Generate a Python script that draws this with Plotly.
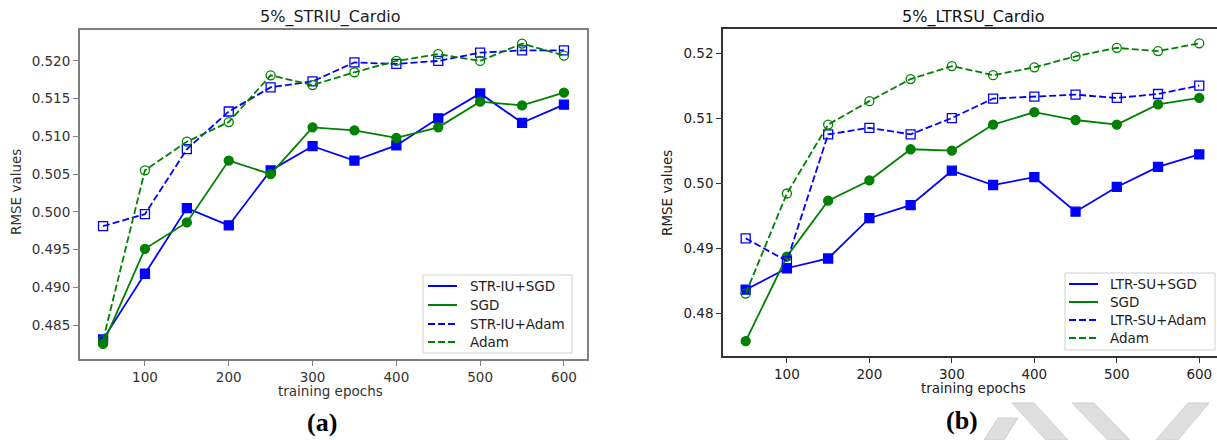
import plotly.graph_objects as go

W, H = 1217, 440

# ---------------- data ----------------
epochs = [50, 100, 150, 200, 250, 300, 350, 400, 450, 500, 550, 600]

# (a) 5%_STRIU_Cardio
a_stri_sgd = [0.4831, 0.4918, 0.5005, 0.4982, 0.5055, 0.5087, 0.5068, 0.5088, 0.5124, 0.5157, 0.5118, 0.5142]
a_sgd = [0.4825, 0.4951, 0.4986, 0.5068, 0.5050, 0.5112, 0.5108, 0.5098, 0.5112, 0.5146, 0.5141, 0.5158]
a_stri_adam = [0.4981, 0.4997, 0.5083, 0.5133, 0.5165, 0.5173, 0.5198, 0.5196, 0.5200, 0.5211, 0.5214, 0.5214]
a_adam = [0.4830, 0.5055, 0.5093, 0.5119, 0.5181, 0.5168, 0.5185, 0.5200, 0.5209, 0.5200, 0.5223, 0.5207]

# (b) 5%_LTRSU_Cardio
b_ltr_sgd = [0.4836, 0.4869, 0.4884, 0.4946, 0.4966, 0.5019, 0.4997, 0.5009, 0.4956, 0.4994, 0.5025, 0.5044]
b_sgd = [0.4757, 0.4887, 0.4973, 0.5004, 0.5052, 0.5050, 0.5090, 0.5109, 0.5097, 0.5090, 0.5121, 0.5131]
b_ltr_adam = [0.4915, 0.4880, 0.5075, 0.5085, 0.5075, 0.5100, 0.5130, 0.5133, 0.5136, 0.5131, 0.5137, 0.5150]
b_adam = [0.4830, 0.4984, 0.5090, 0.5126, 0.5160, 0.5180, 0.5166, 0.5178, 0.5195, 0.5208, 0.5203, 0.5215]

a_names = ["STR-IU+SGD", "SGD", "STR-IU+Adam", "Adam"]
b_names = ["LTR-SU+SGD", "SGD", "LTR-SU+Adam", "Adam"]

x_ticks = [100, 200, 300, 400, 500, 600]
a_y_ticks = [0.485, 0.490, 0.495, 0.500, 0.505, 0.510, 0.515, 0.520]
b_y_ticks = [0.48, 0.49, 0.50, 0.51, 0.52]

titles = ["5%_STRIU_Cardio", "5%_LTRSU_Cardio"]
x_label = "training epochs"
y_label = "RMSE values"
panel_labels = ["(a)", "(b)"]

# ---------------- helpers ----------------
def px(x):
    return x / W

def py(y):
    return 1 - y / H

BLUE = "#0000ff"
GREEN = "#008000"
FONT = "DejaVu Sans"
DASH = "7px,3px"

styles = [
    (BLUE, "solid", "square"),
    (GREEN, "solid", "circle"),
    (BLUE, DASH, "square-open"),
    (GREEN, DASH, "circle-open"),
]

fig = go.Figure()

def add_panel(series, names, xa, ya):
    for vals, name, (color, dash, symbol) in zip(series, names, styles):
        fig.add_trace(go.Scatter(
            x=epochs, y=vals, mode="lines+markers",
            line=dict(color=color, width=1.8, dash=dash),
            marker=dict(symbol=symbol, size=9, color=color,
                        line=dict(color=color, width=1.3)),
            xaxis=xa, yaxis=ya, showlegend=False, name=name,
        ))

add_panel([a_stri_sgd, a_sgd, a_stri_adam, a_adam], a_names, "x", "y")
add_panel([b_ltr_sgd, b_sgd, b_ltr_adam, b_adam], b_names, "x2", "y2")

common_axis = dict(showgrid=False, zeroline=False, showline=True, ticks="outside",
                   ticklen=5, tickwidth=1.2)

fig.update_layout(
    width=W, height=H,
    margin=dict(l=0, r=0, t=0, b=0),
    paper_bgcolor="white", plot_bgcolor="white",
    showlegend=False,
    font=dict(family=FONT, size=13.5, color="#222"),
    xaxis=dict(domain=[px(80), px(587)], range=[22.5, 627.5], anchor="y",
               tickvals=x_ticks, linecolor="#808080", linewidth=2, mirror=True,
               tickcolor="#808080", tickfont=dict(size=13.5, color="#333"), **common_axis),
    yaxis=dict(domain=[py(359), py(30)], range=[0.4805, 0.5241], anchor="x",
               tickvals=a_y_ticks, tickformat=".3f", linecolor="#808080", linewidth=2,
               mirror=True, tickcolor="#808080", tickfont=dict(size=13.5, color="#333"),
               **common_axis),
    xaxis2=dict(domain=[px(723), 1.0], range=[22.5, 621.5], anchor="y2",
                tickvals=x_ticks, linecolor="#333", linewidth=1.5, mirror=True,
                tickcolor="#333", tickfont=dict(size=13.5, color="#222"), **common_axis),
    yaxis2=dict(domain=[py(356), py(29)], range=[0.4734, 0.5237], anchor="x2",
                tickvals=b_y_ticks, tickformat=".2f", linecolor="#333", linewidth=1.5,
                mirror=False, tickcolor="#333", tickfont=dict(size=13.5, color="#222"),
                **common_axis),
)

ann = []
shapes = []

# titles
ann.append(dict(text=titles[0], x=px(330), y=py(17), font=dict(size=16, color="#222")))
ann.append(dict(text=titles[1], x=px(973), y=py(17), font=dict(size=16, color="#111")))
# x labels
ann.append(dict(text=x_label, x=px(330), y=py(391), font=dict(size=13.5, color="#333")))
ann.append(dict(text=x_label, x=px(973), y=py(388), font=dict(size=13.5, color="#222")))
# y labels
ann.append(dict(text=y_label, x=px(16), y=py(192), textangle=-90, font=dict(size=13.5, color="#333")))
ann.append(dict(text=y_label, x=px(667), y=py(193), textangle=-90, font=dict(size=13.5, color="#222")))
# panel labels
ann.append(dict(text="<b>" + panel_labels[0] + "</b>", x=px(322), y=py(422),
                font=dict(size=26, family="Liberation Serif", color="#000")))
ann.append(dict(text="<b>" + panel_labels[1] + "</b>", x=px(962), y=py(420),
                font=dict(size=26, family="Liberation Serif", color="#000")))

# legends (drawn as boxes, line samples and text)
def legend(names, box, rows, line_x, text_x):
    x0, y0, x1, y1 = box
    shapes.append(dict(type="rect", xref="paper", yref="paper",
                       x0=px(x0), x1=px(x1), y0=py(y1), y1=py(y0),
                       fillcolor="rgba(255,255,255,0.9)", line=dict(color="#d0d0d0", width=1)))
    for name, yy, (color, dash, _) in zip(names, rows, styles):
        shapes.append(dict(type="line", xref="paper", yref="paper",
                           x0=px(line_x[0]), x1=px(line_x[1]), y0=py(yy), y1=py(yy),
                           line=dict(color=color, width=2, dash=dash)))
        ann.append(dict(text=name, x=px(text_x), y=py(yy), xanchor="left",
                        font=dict(size=13.5, color="#222")))

legend(a_names, (423, 275, 572, 353), [286, 305, 324, 342], (428, 457), 468)
legend(b_names, (1065, 273, 1215, 350), [284, 302, 320, 338], (1069, 1098), 1108)

for a in ann:
    a.setdefault("xanchor", "center")
    a.update(xref="paper", yref="paper", showarrow=False, yanchor="middle")
fig.update_layout(annotations=ann)

# watermark bands (decoration)
bands = [
    [(984, 440), (1004, 440), (1018, 418), (998, 418)],
    [(1012, 403), (1034, 403), (1068, 440), (1046, 440)],
    [(1072, 403), (1094, 403), (1130, 440), (1108, 440)],
    [(1188, 403), (1209, 403), (1178, 440), (1156, 440)],
]
for poly in bands:
    path = "M " + " L ".join(f"{px(x):.5f},{py(y):.5f}" for x, y in poly) + " Z"
    shapes.append(dict(type="path", xref="paper", yref="paper", path=path,
                       fillcolor="#dedede", line=dict(color="#d0d0d0", width=1), layer="below"))
fig.update_layout(shapes=shapes)

fig.write_html("out.html", config={"displayModeBar": False},
               post_script="document.body.style.margin='0';document.body.style.overflow='hidden';")
